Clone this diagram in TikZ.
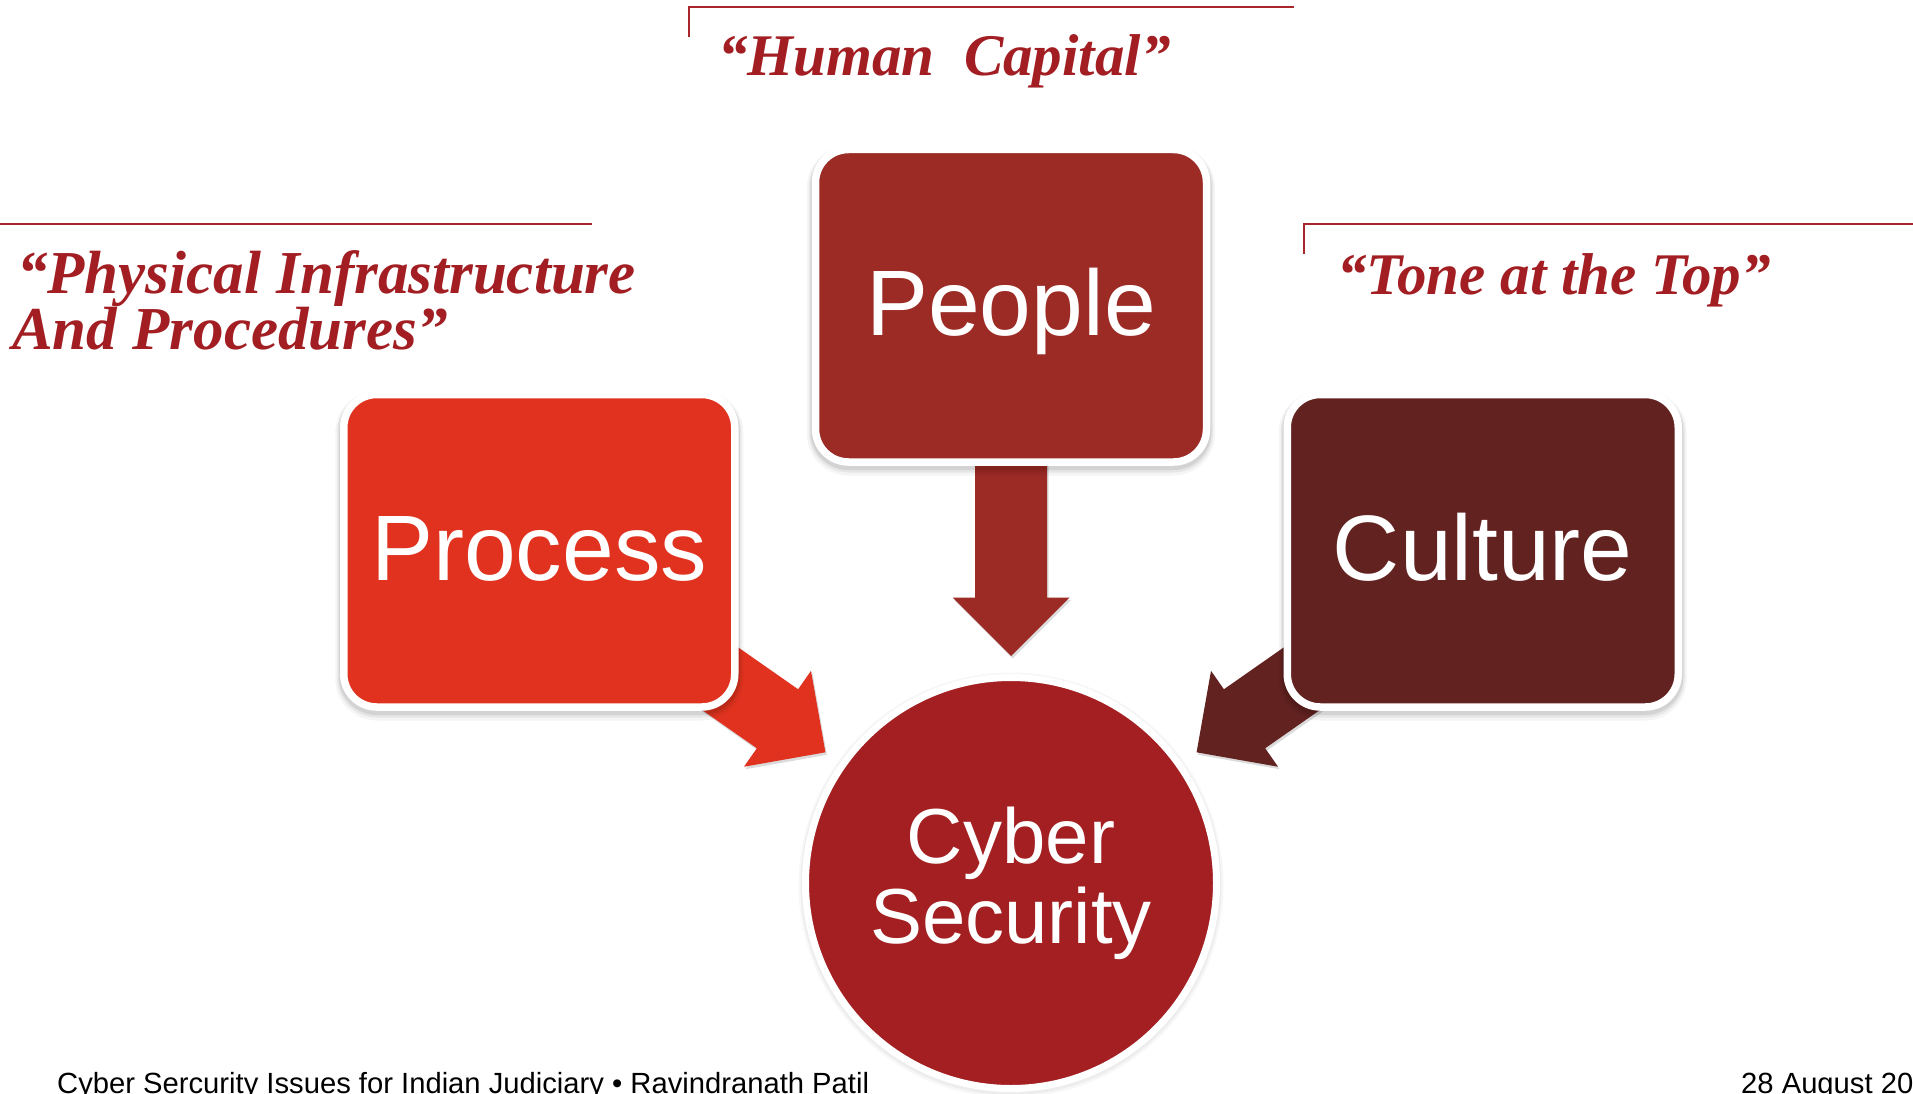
\documentclass[tikz,border=0pt]{standalone}
\usepackage{fontspec}
\setmainfont{Liberation Sans}
\newfontfamily\serifbi{Liberation Serif}
\usetikzlibrary{calc}
\pgfdeclarelayer{back}
\pgfdeclarelayer{bg}
\pgfsetlayers{bg,back,main}

\definecolor{processred}{HTML}{E0321F}
\definecolor{peoplered}{HTML}{9C2A25}
\definecolor{culturered}{HTML}{622220}
\definecolor{cyberred}{HTML}{A31F21}
\definecolor{labelred}{HTML}{A21E22}
\definecolor{rulered}{HTML}{A8272A}

\newcommand\blockarrow[3]{%
  \fill[#3, preaction={fill=black, opacity=0.14, transform canvas={xshift=1.5pt, yshift=-2.5pt}},
        shift={(#1)}, rotate=#2]
    (0,0) -- (-58.5,-58.5) -- (-58.5,-36) -- (-210,-36) -- (-210,36) -- (-58.5,36) -- (-58.5,58.5) -- cycle;}

\tikzset{
  boxnode/.style={rectangle, rounded corners=33pt, minimum width=391pt, minimum height=312.5pt,
    inner sep=0pt, draw=white, line width=7.5pt, text=white,
    font=\fontsize{93}{100}\selectfont, text height=67pt, text depth=8pt,
    preaction={draw=black, opacity=0.04, line width=17pt, transform canvas={yshift=-5pt}},
    preaction={draw=black, opacity=0.06, line width=13pt, transform canvas={yshift=-4pt}},
    preaction={draw=black, opacity=0.08, line width=10pt, transform canvas={yshift=-3pt}}},
  circnode/.style={circle, minimum size=411pt, inner sep=0pt, draw=white, line width=7pt,
    fill=cyberred, text=white, align=center, font=\fontsize{78}{80}\selectfont,
    preaction={draw=black, opacity=0.03, line width=14pt, transform canvas={yshift=-2pt}},
    preaction={draw=black, opacity=0.04, line width=10pt, transform canvas={yshift=-1.5pt}}},
  labeltext/.style={font=\serifbi\bfseries\itshape\fontsize{59}{56}\selectfont, text=labelred,
    inner sep=0pt, anchor=base west},
  physlabel/.style={labeltext, font=\serifbi\bfseries\itshape\fontsize{61}{56}\selectfont},
  foottext/.style={font=\fontsize{29.2}{32}\selectfont, text=black, inner sep=0pt, anchor=base west},
  rulestyle/.style={draw=rulered, line width=2.5pt}
}

\begin{document}
\begin{tikzpicture}[x=1pt, y=-1pt]
\useasboundingbox (0,0) rectangle (1913,1094);
\clip (0,0) rectangle (1913,1094);
\begin{pgfonlayer}{bg}
  \fill[white] (0,0) rectangle (1913,1094);
\end{pgfonlayer}

% label rules
\draw[rulestyle] (689,37) -- (689,7) -- (1294,7);
\draw[rulestyle] (0,224) -- (592,224);
\draw[rulestyle] (1304,254) -- (1304,224) -- (1913,224);

% labels
\node[labeltext] (humancap) at (718,76) {“Human\ \ Capital”};
\node[physlabel] (phys1) at (17,293) {“Physical Infrastructure};
\node[physlabel] (phys2) at (12,349) {And Procedures”};
\node[labeltext] (tone) at (1337,294) {“Tone at the Top”};

% boxes and circle
\node[boxnode, fill=peoplered] (people) at (1011,305.75) {People};
\node[boxnode, fill=processred] (process) at (539.25,550.75) {Process};
\node[boxnode, fill=culturered] (culture) at (1482.75,550.75) {Culture};
\node[circnode] (cyber) at (1011,883) {Cyber\\Security};

% arrow tips
\coordinate (tipPeople) at ($(cyber.center)!227pt!(people.center)$);
\coordinate (tipProcess) at ($(cyber.center)!227pt!(process.center)$);
\coordinate (tipCulture) at ($(cyber.center)!227pt!(culture.center)$);

\begin{pgfonlayer}{back}
  \blockarrow{tipPeople}{-90}{peoplered}
  \blockarrow{tipProcess}{-34.96}{processred}
  \blockarrow{tipCulture}{-145.04}{culturered}
\end{pgfonlayer}

% footer
\node[foottext] (footl) at (57,1093) {Cyber Sercurity Issues for Indian Judiciary • Ravindranath Patil};
\node[foottext] (footr) at (1741,1093) {28 August 20};
\end{tikzpicture}
\end{document}
